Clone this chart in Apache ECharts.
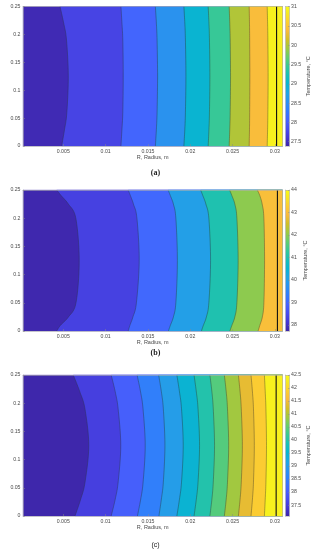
<!DOCTYPE html>
<html><head><meta charset="utf-8">
<script src="https://cdn.jsdelivr.net/npm/echarts@6/dist/echarts.min.js"></script>
<style>html,body{margin:0;padding:0;background:#fff;}#c{width:311px;height:550px;}</style>
</head><body><div id="c"></div>
<script>
// ---------------- data ----------------
const rRange = [0.00024, 0.0309];
const zRange = [0, 0.25];
const rTicks = [0.005, 0.01, 0.015, 0.02, 0.025, 0.03];
const zTicks = [0, 0.05, 0.1, 0.15, 0.2, 0.25];

// panel (a)
const zA = [0, 0.03, 0.06, 0.125, 0.19, 0.22, 0.25];
const boundsA = [
  [0.00481, 0.00515, 0.00542, 0.00559, 0.00538, 0.00505, 0.00461],
  [0.01181, 0.01193, 0.01203, 0.01208, 0.01203, 0.01193, 0.01181],
  [0.01588, 0.01600, 0.01608, 0.01614, 0.01608, 0.01600, 0.01588],
  [0.01925, 0.01936, 0.01943, 0.01949, 0.01943, 0.01936, 0.01925],
  [0.02212, 0.02221, 0.02227, 0.02232, 0.02227, 0.02221, 0.02212],
  [0.02460, 0.02467, 0.02472, 0.02476, 0.02472, 0.02467, 0.02460],
  [0.02696, 0.02700, 0.02702, 0.02704, 0.02702, 0.02700, 0.02696],
  [0.02909, 0.02914, 0.02917, 0.02920, 0.02917, 0.02914, 0.02909]
];
const bandTempA = [27.45, 27.75, 28.1, 28.55, 28.98, 29.45, 30.0, 30.4, 30.9];
const wallA = 0.0302;
const cbarA = [27.39, 31];
const cbarTicksA = [27.5, 28, 28.5, 29, 29.5, 30, 30.5, 31];

// panel (b)
const zB = [0, 0.01, 0.025, 0.05, 0.125, 0.2, 0.225, 0.24, 0.25];
const boundsB = [
  [0.00422, 0.00466, 0.00561, 0.00650, 0.00688, 0.00648, 0.00560, 0.00475, 0.00422],
  [0.01267, 0.01287, 0.01323, 0.01364, 0.01397, 0.01370, 0.01329, 0.01293, 0.01267],
  [0.01742, 0.01765, 0.01801, 0.01830, 0.01848, 0.01830, 0.01801, 0.01765, 0.01739],
  [0.02132, 0.02155, 0.02191, 0.02220, 0.02240, 0.02220, 0.02185, 0.02149, 0.02123],
  [0.02468, 0.02492, 0.02527, 0.02551, 0.02566, 0.02551, 0.02527, 0.02492, 0.02465],
  [0.02802, 0.02822, 0.02852, 0.02870, 0.02878, 0.02870, 0.02850, 0.02822, 0.02793]
];
const bandTempB = [37.78, 38.3, 39.0, 40.0, 41.0, 42.0, 43.0];
const wallB = 0.0303;
const cbarB = [37.73, 44];
const cbarTicksB = [38, 39, 40, 41, 42, 43, 44];

// panel (c)
const zC = [0, 0.03, 0.06, 0.125, 0.19, 0.22, 0.25];
const boundsC = [
  [0.00638, 0.00706, 0.00757, 0.00801, 0.00756, 0.00696, 0.00618],
  [0.01066, 0.01114, 0.01148, 0.01179, 0.01148, 0.01114, 0.01066],
  [0.01376, 0.01415, 0.01443, 0.01468, 0.01442, 0.01413, 0.01372],
  [0.01630, 0.01659, 0.01682, 0.01701, 0.01682, 0.01659, 0.01627],
  [0.01842, 0.01873, 0.01897, 0.01917, 0.01897, 0.01873, 0.01842],
  [0.02045, 0.02072, 0.02092, 0.02110, 0.02092, 0.02072, 0.02045],
  [0.02232, 0.02256, 0.02272, 0.02287, 0.02272, 0.02256, 0.02232],
  [0.02403, 0.02425, 0.02440, 0.02454, 0.02440, 0.02425, 0.02403],
  [0.02569, 0.02589, 0.02603, 0.02616, 0.02603, 0.02589, 0.02569],
  [0.02718, 0.02735, 0.02747, 0.02757, 0.02747, 0.02735, 0.02718],
  [0.02876, 0.02886, 0.02894, 0.02901, 0.02894, 0.02886, 0.02876]
];
const bandTempC = [37.1, 37.55, 38.05, 38.5, 39.0, 39.45, 39.95, 40.4, 40.9, 41.4, 41.85, 42.35];
const wallC = 0.03015;
const cbarC = [37.08, 42.5];
const cbarTicksC = [37.5, 38, 38.5, 39, 39.5, 40, 40.5, 41, 41.5, 42, 42.5];

const captions = ['(a)', '(b)', '(c)'];
const xName = 'R, Radius, m';
const yName = 'Z, Height, m';
const cName = 'Temperature, \u00B0C';

// ---------------- style ----------------
const parula = ['#3e26a8','#4537d5','#484df0','#4563fd','#327cfc','#2b91ef','#20a5e3','#08b5d0',
  '#19bfb6','#37c897','#64cd6f','#9dc943','#d1bf27','#f8ba3d','#fccf30','#f5e924','#f9fb15'];
const parulaPos = [0,4,8,12,16,20,24,28,32,36,40,44,48,52,56,60,63].map(v => v / 63);
function hex2rgb(h){return [parseInt(h.substr(1,2),16),parseInt(h.substr(3,2),16),parseInt(h.substr(5,2),16)];}
function parulaColor(t){
  t = Math.max(0, Math.min(1, t));
  for (let k = 0; k < parulaPos.length - 1; k++) {
    if (t <= parulaPos[k+1]) {
      const f = (t - parulaPos[k]) / (parulaPos[k+1] - parulaPos[k]);
      const a = hex2rgb(parula[k]), b = hex2rgb(parula[k+1]);
      return 'rgb(' + a.map((v, j) => Math.round(v + (b[j]-v)*f)).join(',') + ')';
    }
  }
  return parula[parula.length-1];
}
const FONT = 'Liberation Sans';
const TXT = '#4a4a4a';
const BOX = '#b0b0b0';

const panels = [
  {z: zA, bounds: boundsA, temps: bandTempA, wall: wallA, cbar: cbarA, cticks: cbarTicksA, top: 6.5, h: 139.5},
  {z: zB, bounds: boundsB, temps: bandTempB, wall: wallB, cbar: cbarB, cticks: cbarTicksB, top: 190, h: 141},
  {z: zC, bounds: boundsC, temps: bandTempC, wall: wallC, cbar: cbarC, cticks: cbarTicksC, top: 375, h: 141}
];

// Catmull-Rom smoothing in pixel space (rendering only)
function smoothPx(pts){
  const out = [];
  const n = pts.length;
  for (let i = 0; i < n - 1; i++) {
    const p0 = pts[Math.max(i-1,0)], p1 = pts[i], p2 = pts[i+1], p3 = pts[Math.min(i+2,n-1)];
    const steps = 10;
    for (let s = 0; s < steps; s++) {
      const t = s/steps, t2 = t*t, t3 = t2*t;
      const c = j => 0.5*((2*p1[j]) + (-p0[j]+p2[j])*t + (2*p0[j]-5*p1[j]+4*p2[j]-p3[j])*t2 + (-p0[j]+3*p1[j]-3*p2[j]+p3[j])*t3);
      out.push([c(0), c(1)]);
    }
  }
  out.push(pts[n-1]);
  return out;
}

const grids = [], xAxes = [], yAxes = [], series = [], titles = [];
const plotLeft = 23, plotRight = 28.5, cbLeft = 285.5, cbW = 4;

panels.forEach((p, k) => {
  grids.push({left: plotLeft, right: plotRight, top: p.top, height: p.h, containLabel: false, outerBoundsMode: 'none'});
});
panels.forEach((p, k) => {
  grids.push({left: cbLeft, width: cbW, top: p.top, height: p.h, containLabel: false, outerBoundsMode: 'none'});
});

const lineOnly = (extra) => Object.assign({
  axisLine: {show: true, onZero: false, lineStyle: {color: BOX, width: 0.6}},
  axisTick: {show: false}, axisLabel: {show: false}, splitLine: {show: false}, z: 5
}, extra);

panels.forEach((p, k) => {
  xAxes.push({
    type: 'value', gridIndex: k, min: rRange[0], max: rRange[1], position: 'bottom', z: 5,
    name: xName, nameLocation: 'middle', nameGap: 8,
    nameTextStyle: {fontFamily: FONT, fontSize: 5.5, color: TXT},
    axisLine: {show: true, onZero: false, lineStyle: {color: BOX, width: 0.6}},
    axisTick: {show: true, inside: true, length: 2, customValues: rTicks, lineStyle: {color: '#888', width: 0.5}},
    axisLabel: {show: true, customValues: rTicks, margin: 3, fontFamily: FONT, fontSize: 5.2, color: TXT},
    splitLine: {show: false}
  });
  xAxes.push(lineOnly({type: 'value', gridIndex: k, min: rRange[0], max: rRange[1], position: 'top'}));
  yAxes.push({
    type: 'value', gridIndex: k, min: zRange[0], max: zRange[1], position: 'left', z: 5,
    name: yName, nameLocation: 'middle', nameGap: 14, nameRotate: 90,
    nameTextStyle: {fontFamily: FONT, fontSize: 5.5, color: TXT},
    axisLine: {show: true, onZero: false, lineStyle: {color: BOX, width: 0.6}},
    axisTick: {show: true, inside: true, length: 2, customValues: zTicks, lineStyle: {color: '#888', width: 0.5}},
    axisLabel: {show: true, customValues: zTicks, margin: 2.5, fontFamily: FONT, fontSize: 5.2, color: TXT},
    splitLine: {show: false}
  });
  yAxes.push(lineOnly({type: 'value', gridIndex: k, min: zRange[0], max: zRange[1], position: 'right'}));
});
panels.forEach((p, k) => {
  xAxes.push(lineOnly({type: 'value', gridIndex: 3 + k, min: 0, max: 1, position: 'bottom'}));
  xAxes.push(lineOnly({type: 'value', gridIndex: 3 + k, min: 0, max: 1, position: 'top'}));
  yAxes.push({
    type: 'value', gridIndex: 3 + k, min: p.cbar[0], max: p.cbar[1], position: 'right', z: 5,
    name: cName, nameLocation: 'middle', nameGap: 13, nameRotate: 90,
    nameTextStyle: {fontFamily: FONT, fontSize: 5.5, color: TXT},
    axisLine: {show: true, onZero: false, lineStyle: {color: BOX, width: 0.6}},
    axisTick: {show: true, inside: true, length: 1.5, customValues: p.cticks, lineStyle: {color: '#888', width: 0.5}},
    axisLabel: {show: true, customValues: p.cticks, margin: 1.5, fontFamily: FONT, fontSize: 5.2, color: TXT},
    splitLine: {show: false}
  });
  yAxes.push(lineOnly({type: 'value', gridIndex: 3 + k, min: p.cbar[0], max: p.cbar[1], position: 'left'}));
});

panels.forEach((p, k) => {
  const xi = 2 * k, yi = 2 * k;
  series.push({
    type: 'custom', xAxisIndex: xi, yAxisIndex: yi, z: 2, silent: true,
    data: p.temps.map((t, i) => [i, t]),
    encode: {x: -1, y: -1},
    renderItem: function (params, api) {
      const i = api.value(0);
      const t = api.value(1);
      const fill = parulaColor((t - p.cbar[0]) / (p.cbar[1] - p.cbar[0]));
      const tr = api.coord([rRange[1], zRange[1]]);
      const br = api.coord([rRange[1], zRange[0]]);
      let curve;
      if (i === 0) {
        curve = [api.coord([rRange[0], zRange[0]]), api.coord([rRange[0], zRange[1]])];
      } else {
        curve = smoothPx(p.bounds[i-1].map((r, j) => api.coord([r, p.z[j]])));
      }
      const poly = curve.concat([tr, br]);
      const children = [{
        type: 'polygon', shape: {points: poly},
        style: {fill: fill, stroke: fill, lineWidth: 0.3}
      }];
      if (i > 0) {
        children.push({
          type: 'polyline', shape: {points: curve}, z2: 10,
          style: {fill: null, stroke: 'rgba(40,40,40,0.75)', lineWidth: 0.5}
        });
      }
      return {type: 'group', children: children};
    }
  });
  series.push({
    type: 'line', xAxisIndex: xi, yAxisIndex: yi, z: 4, silent: true,
    symbol: 'none', data: [[p.wall, zRange[0]], [p.wall, zRange[1]]],
    lineStyle: {color: '#111', width: 1.1}
  });
  series.push({
    type: 'custom', xAxisIndex: 6 + 2 * k, yAxisIndex: 6 + 2 * k, z: 2, silent: true,
    data: [[p.cbar[0], p.cbar[1]]],
    encode: {x: -1, y: -1},
    renderItem: function (params, api) {
      const a = api.coord([0, api.value(0)]);
      const b = api.coord([1, api.value(1)]);
      return {
        type: 'rect', shape: {x: a[0], y: b[1], width: b[0] - a[0], height: a[1] - b[1]},
        style: {fill: {type: 'linear', x: 0, y: 1, x2: 0, y2: 0,
          colorStops: parula.map((c, j) => ({offset: parulaPos[j], color: c}))}}
      };
    }
  });
});

titles.push({text: captions[0], left: 'center', top: 168.5, textStyle: {fontFamily: 'Liberation Serif', fontSize: 8, fontWeight: 'bold', color: '#222'}});
titles.push({text: captions[1], left: 'center', top: 348.5, textStyle: {fontFamily: 'Liberation Serif', fontSize: 8, fontWeight: 'bold', color: '#222'}});
titles.push({text: captions[2], left: 'center', top: 542, textStyle: {fontFamily: 'Liberation Sans', fontSize: 7, fontWeight: 'normal', color: '#222'}});
titles.forEach(t => { t.padding = 0; });

const chart = echarts.init(document.getElementById('c'), null, {renderer: 'canvas'});
chart.setOption({
  animation: false,
  backgroundColor: '#fff',
  title: titles,
  grid: grids,
  xAxis: xAxes,
  yAxis: yAxes,
  series: series
});
</script>
</body></html>
